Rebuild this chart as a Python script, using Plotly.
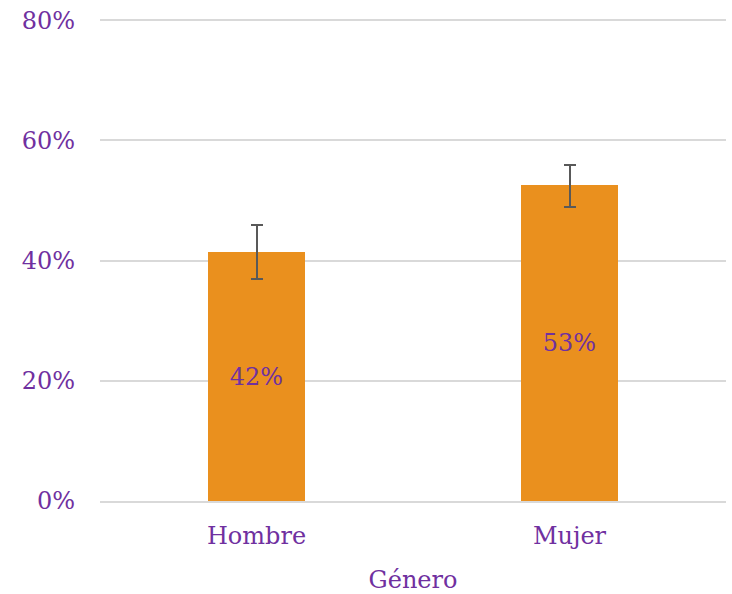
import plotly.graph_objects as go

categories = ["Hombre", "Mujer"]
values = [0.415, 0.525]
err_plus = [0.045, 0.034]
err_minus = [0.045, 0.036]
labels = ["42%", "53%"]

purple = "#7030A0"
font_family = "DejaVu Serif"

fig = go.Figure(go.Bar(
    x=categories, y=values,
    marker=dict(color="#EA901E", line=dict(width=0)),
    width=0.31,
    text=labels, textposition="inside", insidetextanchor="middle",
    textfont=dict(color=purple, size=24, family=font_family),
    error_y=dict(type="data", symmetric=False, array=err_plus, arrayminus=err_minus,
                 color="#595959", thickness=2, width=6),
))

fig.update_layout(
    width=732, height=594,
    margin=dict(l=100, r=6, t=19, b=93),
    plot_bgcolor="white", paper_bgcolor="white",
    showlegend=False,
    font=dict(family=font_family, color=purple, size=22),
    bargap=0,
)
fig.update_yaxes(range=[0, 0.802], tickvals=[0, 0.2, 0.4, 0.6, 0.8], tickformat=".0%",
                 showgrid=True, gridcolor="#D9D9D9", gridwidth=1.5, zeroline=False,
                 showline=False, ticks="", ticklabelstandoff=24, automargin=False,
                 tickfont=dict(size=24, color=purple, family=font_family))
fig.update_xaxes(title=dict(text="Género", font=dict(size=24, color=purple, family=font_family), standoff=32),
                 showline=True, linecolor="#D9D9D9", linewidth=1.5, ticks="",
                 ticklabelstandoff=12, automargin=False,
                 tickfont=dict(size=24, color=purple, family=font_family))

fig.write_html("out.html", config={"displayModeBar": False},
               post_script="document.body.style.margin='0';document.body.style.overflow='hidden';")
